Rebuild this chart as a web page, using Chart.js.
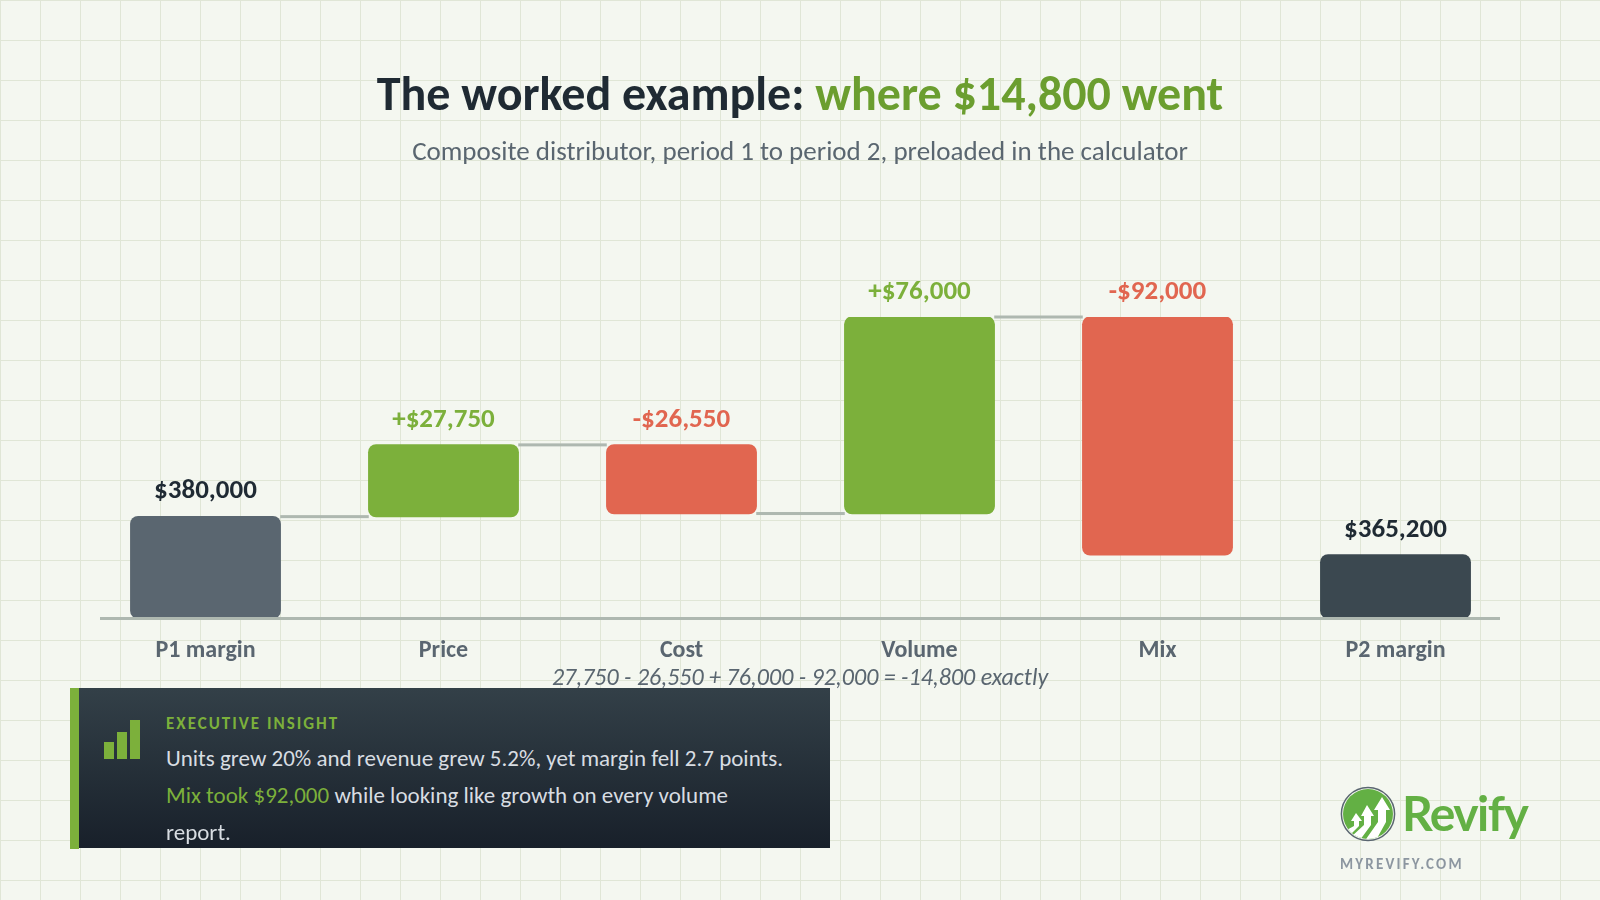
<!DOCTYPE html>
<html>
<head>
<meta charset="utf-8">
<title>The worked example</title>
<script src="https://cdn.jsdelivr.net/npm/chart.js@4"></script>
<style>
    * { margin: 0; padding: 0; box-sizing: border-box; }
    body {
        width: 1600px; height: 900px; overflow: hidden; position: relative;
        font-family: Carlito, Lato, sans-serif;
        background-color: #f4f7f0;
        background-image: linear-gradient(#e0e6d6 1px, transparent 1px), linear-gradient(90deg, #e0e6d6 1px, transparent 1px);
        background-size: 40px 40px;
    }
    canvas { position: absolute; left: 0; top: 0; }
    .center { position: absolute; left: 0; width: 1600px; text-align: center; white-space: nowrap; }
    #title { top: 64px; font-size: 48px; line-height: 60px; font-weight: 700; color: #1f2a33; }
    #title span { color: #6b9e2f; }
    #subtitle { top: 134px; font-size: 27px; line-height: 34px; color: #5a6670; }
    #formula { top: 662px; font-size: 24px; line-height: 30px; font-style: italic; color: #5a6670; }
    #insight {
        position: absolute; left: 70px; top: 688px; width: 760px; height: 160px;
        background: linear-gradient(#334048, #18202a);
    }
    #accent { position: absolute; left: 70px; top: 688px; width: 9px; height: 161px; background: #7cb03b; }
    .iconbar { position: absolute; width: 10px; background: #7cb03b; }
    #kicker { position: absolute; left: 166px; top: 713px; font-size: 17px; line-height: 22px; font-weight: 700; letter-spacing: 2px; color: #7cb03b; }
    .line { position: absolute; left: 166px; font-size: 23px; line-height: 36px; color: #d8dde2; white-space: nowrap; }
    .line span { color: #7cb03b; }
    #logo { position: absolute; left: 1338px; top: 784px; }
    #site { position: absolute; left: 1340px; top: 854px; font-size: 15px; line-height: 20px; font-weight: 700; letter-spacing: 2.2px; color: #8c96a0; }
</style>
</head>
<body>
<canvas id="waterfallChart" width="1600" height="900"></canvas>

<div id="title" class="center">The worked example: <span>where $14,800 went</span></div>
<div id="subtitle" class="center">Composite distributor, period 1 to period 2, preloaded in the calculator</div>
<div id="formula" class="center">27,750 - 26,550 + 76,000 - 92,000 = -14,800 exactly</div>

<div id="insight"></div>
<div id="accent"></div>
<div class="iconbar" style="left:104px;height:17px;top:742px"></div>
<div class="iconbar" style="left:117px;height:27px;top:732px"></div>
<div class="iconbar" style="left:130px;height:39px;top:720px"></div>
<div id="kicker">EXECUTIVE INSIGHT</div>
<div class="line" style="top:740px">Units grew 20% and revenue grew 5.2%, yet margin fell 2.7 points.</div>
<div class="line" style="top:777px"><span>Mix took $92,000</span> while looking like growth on every volume</div>
<div class="line" style="top:814px">report.</div>

<svg id="logo" width="200" height="60" viewBox="0 0 200 60">
    <defs><clipPath id="disc"><circle cx="30" cy="30" r="25"/></clipPath></defs>
    <circle cx="30" cy="30" r="26.6" fill="none" stroke="#5a6670" stroke-width="1.5"/>
    <circle cx="30" cy="30" r="25" fill="#63b044"/>
    <g clip-path="url(#disc)" fill="#fff">
        <path d="M18 29 L24 37 L21 37 L21 42 L11 52 L5 48 L16 42 L16 37 L13 37 Z"/>
        <path d="M29 21 L36 32 L33 32 L33 41 L22 56 L13 53 L26 41 L26 32 L23 32 Z"/>
        <path d="M44 13 L52 26 L48 26 L48 38 L37 58 L26 58 L40 38 L40 26 L36 26 Z"/>
    </g>
    <text x="64" y="47" font-family="Lato, sans-serif" font-size="48" font-weight="700" letter-spacing="-1.5" fill="#63b044">Revify</text>
</svg>
<div id="site">MYREVIFY.COM</div>

<script>
// Chart data
const categories = ['P1 margin', 'Price', 'Cost', 'Volume', 'Mix', 'P2 margin'];
const barLow = [340800, 380000, 381200, 381200, 365200, 340800];
const barHigh = [380000, 407750, 407750, 457200, 457200, 365200];
const valueLabels = ['$380,000', '+$27,750', '-$26,550', '+$76,000', '-$92,000', '$365,200'];
const barColors = ['#5a6670', '#7cb03b', '#e16650', '#7cb03b', '#e16650', '#3b4850'];
const labelColors = ['#1f2a33', '#7cb03b', '#e16650', '#7cb03b', '#e16650', '#1f2a33'];
const connectorLevels = [380000, 407750, 381200, 457200];

const FONT = 'Carlito, Lato, sans-serif';

// Connectors sit behind the bars, axis line and value labels go on top
const waterfallExtras = {
    id: 'waterfallExtras',
    beforeDatasetsDraw(chart) {
        const ctx = chart.ctx;
        const bars = chart.getDatasetMeta(0).data;
        ctx.save();
        ctx.fillStyle = '#aeb8b0';
        connectorLevels.forEach((level, i) => {
            const y = chart.scales.y.getPixelForValue(level);
            const left = bars[i].x + bars[i].width / 2;
            const right = bars[i + 1].x - bars[i + 1].width / 2;
            ctx.fillRect(left, y - 1.5, right - left, 3);
        });
        ctx.restore();
    },
    afterDatasetsDraw(chart) {
        const ctx = chart.ctx;
        const yScale = chart.scales.y;
        const bars = chart.getDatasetMeta(0).data;
        ctx.save();
        ctx.fillStyle = '#aeb8b0';
        ctx.fillRect(100, yScale.bottom - 1, 1400, 3);
        ctx.font = '700 27px ' + FONT;
        ctx.textAlign = 'center';
        ctx.textBaseline = 'middle';
        bars.forEach((bar, i) => {
            ctx.fillStyle = labelColors[i];
            ctx.fillText(valueLabels[i], bar.x, yScale.getPixelForValue(barHigh[i]) - 25);
        });
        ctx.restore();
    }
};

new Chart(document.getElementById('waterfallChart'), {
    type: 'bar',
    data: {
        labels: categories,
        datasets: [{
            data: barLow.map((low, i) => [low, barHigh[i]]),
            backgroundColor: barColors,
            borderRadius: 8,
            borderSkipped: false,
            inflateAmount: 0.7,
            categoryPercentage: 1,
            barPercentage: 0.628
        }]
    },
    options: {
        responsive: false,
        animation: false,
        layout: { padding: { left: 86.5, right: 85.5, top: 317, bottom: 0 } },
        plugins: {
            legend: { display: false },
            tooltip: { enabled: false }
        },
        scales: {
            x: {
                grid: { display: false },
                border: { display: false },
                afterFit(scale) { scale.height = 282; },
                ticks: {
                    padding: 11,
                    maxRotation: 0,
                    color: '#5a6670',
                    font: { family: FONT, size: 24, weight: '700' }
                }
            },
            y: { display: false, min: 340800, max: 457200 }
        }
    },
    plugins: [waterfallExtras]
});
</script>
</body>
</html>
